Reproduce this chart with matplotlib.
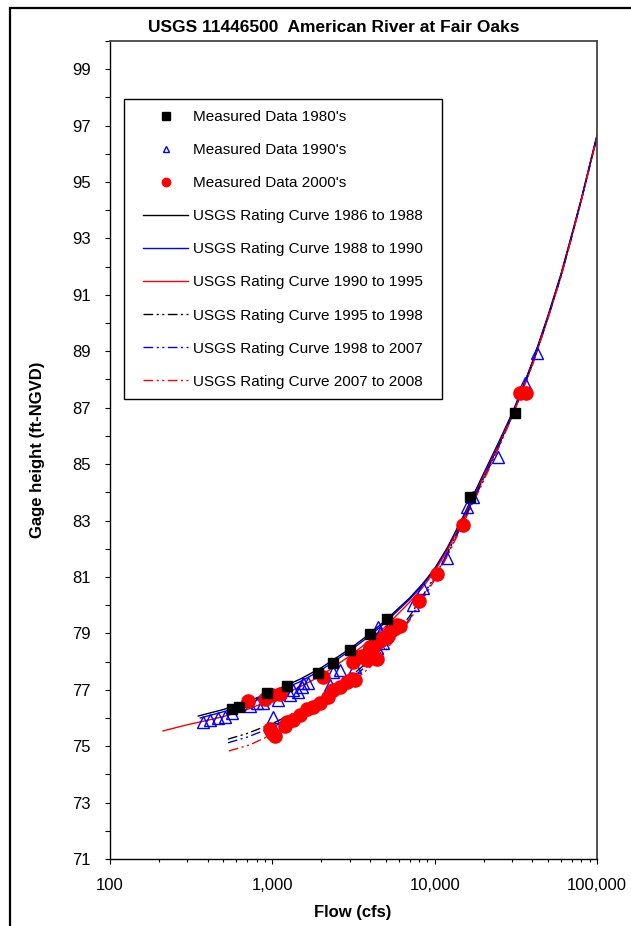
import numpy as np
import matplotlib
matplotlib.use("Agg")
import matplotlib.pyplot as plt
from matplotlib.lines import Line2D
from matplotlib.patches import Rectangle
from matplotlib.ticker import FixedLocator, FuncFormatter, LogLocator, NullFormatter

plt.rcParams['font.family'] = ['Liberation Sans', 'DejaVu Sans']

# measured data, flow (cfs) and gage height (ft-NGVD)
q_1980s = [564, 623, 927, 1230, 1910, 2365, 3010, 4000, 5080, 16500, 31250]
h_1980s = [76.32, 76.39, 76.88, 77.13, 77.59, 77.95, 78.41, 78.98, 79.51, 83.83, 86.81]

q_1990s = [374, 413, 463, 511, 564, 729, 805, 876, 1010, 1084, 1285, 1440, 1545, 1658,
           1523, 1341, 2266, 2365, 2612, 3231, 3141, 3831, 4112, 4606, 3997, 4414, 4807,
           5308, 4500, 7355, 8477, 11910, 15820, 17230, 24560, 36010, 42700]
h_1990s = [75.86, 75.93, 76.00, 76.03, 76.18, 76.42, 76.53, 76.53, 76.03, 76.64, 76.81, 76.92, 77.24, 77.24,
           77.10, 76.99, 77.17, 77.63, 77.70, 77.81, 78.13, 78.52, 78.69, 79.01, 78.30, 78.48, 78.66,
           79.29, 79.22, 80.00, 80.61, 81.67, 83.48, 83.83, 85.25, 87.87, 88.94]

q_2000s = [708, 901, 995, 1115, 2052,
           967, 1039, 995, 1197, 1231, 1341, 1481, 1635, 1781, 1967, 2203, 2365, 2612, 2884, 3096, 3231,
           3141, 3372, 3568, 3831, 4414, 3997, 4112, 4478, 4606, 4807, 5088, 5308, 5697, 6116, 5861,
           8009, 10340, 14950, 33550, 36530]
h_2000s = [76.60, 76.67, 76.81, 76.85, 77.45,
           75.61, 75.36, 75.47, 75.71, 75.86, 75.93, 76.10, 76.32, 76.39, 76.53, 76.74, 76.99, 77.10, 77.27, 77.38, 77.35,
           77.98, 78.16, 78.20, 78.05, 78.09, 78.52, 78.41, 78.69, 78.73, 78.83, 78.87, 79.05, 79.19, 79.26, 79.29,
           80.15, 81.10, 82.84, 87.52, 87.52]

# USGS rating curves
q_upper = [350, 500, 700, 1000, 1500, 2000, 3000, 4000, 5000, 7000, 8500, 10000, 12000, 15000,
           20000, 25000, 30000, 35000, 40000, 50000, 60000, 70000, 80000, 100000]
h_8688 = [76.07, 76.30, 76.58, 76.93, 77.39, 77.78, 78.45, 78.99, 79.47, 80.25, 80.78, 81.30, 82.05, 83.15,
          84.66, 85.82, 86.80, 87.75, 88.63, 90.28, 91.74, 93.15, 94.40, 96.66]
q_8890 = [360] + q_upper[1:]
h_8890 = [76.00, 76.22, 76.50, 76.85, 77.30, 77.70, 78.38, 78.92, 79.40, 80.20, 80.73, 81.25, 82.00, 83.10,
          84.62, 85.78, 86.77, 87.72, 88.60, 90.25, 91.71, 93.12, 94.38, 96.64]
q_9095 = [212, 300, 400] + q_upper[1:]
h_9095 = [75.54, 75.76, 75.92, 76.05, 76.30, 76.65, 77.12, 77.50, 78.20, 78.75, 79.25, 80.10, 80.65, 81.20,
          81.95, 83.05, 84.55, 85.72, 86.72, 87.68, 88.55, 90.20, 91.67, 93.08, 94.35, 96.62]

q_lower = [533, 700, 1000, 1500, 2000, 3000, 4000, 5000, 7000, 10000, 12000, 15000, 20000,
           25000, 30000, 40000, 50000, 60000, 70000, 80000, 100000]
h_9598 = [75.25, 75.45, 75.80, 76.30, 76.70, 77.45, 78.05, 78.60, 79.60, 81.00, 81.85, 83.00, 84.50,
          85.70, 86.72, 88.55, 90.22, 91.68, 93.10, 94.36, 96.62]
q_9807 = q_lower
h_9807 = [75.12, 75.32, 75.67, 76.18, 76.60, 77.35, 77.95, 78.50, 79.50, 80.95, 81.80, 82.95, 84.45,
          85.66, 86.70, 88.52, 90.20, 91.66, 93.08, 94.35, 96.60]
q_0708 = [540, 729] + q_lower[2:]
h_0708 = [74.83, 75.05, 75.42, 75.95, 76.40, 77.20, 77.80, 78.40, 79.45, 80.90, 81.75, 82.90, 84.40,
          85.62, 86.68, 88.50, 90.18, 91.64, 93.06, 94.33, 96.58]

BLUE = '#0000ff'
RED = '#ff0000'
dashdotdot = (0, (7, 2.5, 1.5, 2.5, 1.5, 2.5))

fig = plt.figure(figsize=(6.31, 9.26), dpi=100)
ax = fig.add_axes([110 / 631, 1 - 859 / 926, 487 / 631, 818 / 926])

ax.plot(q_upper, h_8688, color='black', lw=1.0, zorder=2)
ax.plot(q_8890, h_8890, color=BLUE, lw=1.0, zorder=2)
ax.plot(q_9095, h_9095, color=RED, lw=1.0, zorder=2)
ax.plot(q_lower, h_9598, color='black', lw=1.0, ls=dashdotdot, zorder=2)
ax.plot(q_9807, h_9807, color=BLUE, lw=1.0, ls=dashdotdot, zorder=2)
ax.plot(q_0708, h_0708, color=RED, lw=1.0, ls=dashdotdot, zorder=2)

ax.plot(q_1990s, h_1990s, ls='none', marker='^', ms=8.5, mfc='none', mec=BLUE, mew=1.0, zorder=3)
ax.plot(q_2000s, h_2000s, ls='none', marker='o', ms=9.5, mfc=RED, mec=RED, zorder=4)
ax.plot(q_1980s, h_1980s, ls='none', marker='s', ms=6.5, mfc='black', mec='black', zorder=5)

ax.set_xscale('log')
ax.set_xlim(100, 100000)
ax.set_ylim(71, 100)
ax.xaxis.set_major_locator(FixedLocator([100, 1000, 10000, 100000]))
ax.xaxis.set_minor_locator(LogLocator(base=10, subs=np.arange(2, 10)))
ax.xaxis.set_minor_formatter(NullFormatter())
ax.xaxis.set_major_formatter(FuncFormatter(lambda v, p: f"{v:,.0f}"))
ax.yaxis.set_major_locator(FixedLocator(np.arange(71, 100, 2)))
ax.yaxis.set_minor_locator(FixedLocator(np.arange(72, 101, 2)))

ax.tick_params(axis='both', which='major', direction='out', length=3.6, width=0.8, labelsize=12, pad=10)
ax.tick_params(axis='x', which='minor', direction='out', length=2.2, width=0.8)
ax.tick_params(axis='y', which='minor', direction='out', length=3.6, width=0.8)
ax.tick_params(top=False, right=False, which='both')
for side in ['left', 'bottom']:
    ax.spines[side].set_linewidth(1.0)
for side in ['top', 'right']:
    ax.spines[side].set_linewidth(1.3)
    ax.spines[side].set_color('#444444')

fig.text(334 / 631, 1 - 27 / 926, "USGS 11446500  American River at Fair Oaks",
         ha='center', va='center', fontsize=12.5, fontweight='bold')
fig.text(353 / 631, 1 - 912 / 926, "Flow (cfs)", ha='center', va='center',
         fontsize=12, fontweight='bold')
fig.text(38 / 631, 1 - 450 / 926, "Gage height (ft-NGVD)", ha='center', va='center',
         rotation=90, fontsize=12, fontweight='bold')

handles = [
    Line2D([], [], ls='none', marker='s', ms=5.5, mfc='black', mec='black'),
    Line2D([], [], ls='none', marker='^', ms=5, mfc='none', mec=BLUE, mew=1.0),
    Line2D([], [], ls='none', marker='o', ms=6, mfc=RED, mec=RED),
    Line2D([], [], color='black', lw=1.0),
    Line2D([], [], color=BLUE, lw=1.0),
    Line2D([], [], color=RED, lw=1.0),
    Line2D([], [], color='black', lw=1.0, ls=dashdotdot),
    Line2D([], [], color=BLUE, lw=1.0, ls=dashdotdot),
    Line2D([], [], color=RED, lw=1.0, ls=dashdotdot),
]
labels = ["Measured Data 1980's", "Measured Data 1990's", "Measured Data 2000's",
          "USGS Rating Curve 1986 to 1988", "USGS Rating Curve 1988 to 1990",
          "USGS Rating Curve 1990 to 1995", "USGS Rating Curve 1995 to 1998",
          "USGS Rating Curve 1998 to 2007", "USGS Rating Curve 2007 to 2008"]
fs = 11
leg = ax.legend(handles, labels, loc='upper left', bbox_to_anchor=(143 / 631, 1 - 110 / 926),
                bbox_transform=fig.transFigure, frameon=False, fontsize=fs, borderpad=0,
                borderaxespad=0, handlelength=45 / (fs * 100 / 72), handletextpad=0.33,
                labelspacing=1.25)
leg.set_zorder(10)

# legend frame and outer border
fig.add_artist(Rectangle((124 / 631, 1 - 399 / 926), 318 / 631, 300 / 926, transform=fig.transFigure,
                         fill=False, ec='black', lw=1.0, zorder=11))
fig.add_artist(Rectangle((10 / 631, -0.05), 1.2, 1.05 - 8 / 926, transform=fig.transFigure,
                         fill=False, ec='black', lw=1.6, clip_on=False))

fig.savefig("out.png", dpi=100)
